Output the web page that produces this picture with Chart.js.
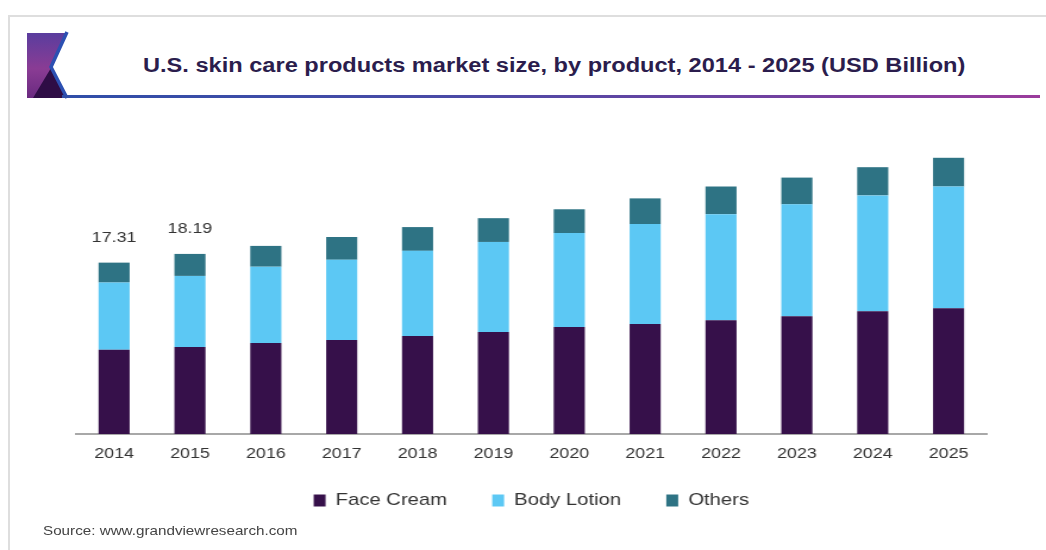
<!DOCTYPE html>
<html><head><meta charset="utf-8">
<script src="https://cdn.jsdelivr.net/npm/chart.js@4.4.1/dist/chart.umd.min.js"></script>
<style>
html,body{margin:0;padding:0;background:#fff;width:1046px;height:550px;overflow:hidden;font-family:"Liberation Sans",Arial,sans-serif;}
#card{position:absolute;left:8px;top:15px;width:1060px;height:560px;border-top:2px solid #dedede;border-left:2px solid #dedede;box-sizing:border-box;}
#title{position:absolute;left:143px;top:54px;font-weight:bold;font-size:20px;color:#2b1d4d;white-space:nowrap;transform:scaleX(1.18);transform-origin:0 0;}
#rule{position:absolute;left:62px;top:95px;width:978px;height:3px;background:linear-gradient(90deg,#2f4ea8 0%,#4a4aa6 40%,#7a3f9f 80%,#9b3c9c 100%);}
#source{position:absolute;left:43px;top:523px;font-size:13px;color:#444;transform:scaleX(1.17);transform-origin:0 0;white-space:nowrap;}
#wrap{position:absolute;left:0;top:0;width:879px;height:550px;transform:scaleX(1.19);transform-origin:0 0;}
svg{position:absolute;left:0;top:0;}
</style></head>
<body>
<div id="card"></div>
<svg width="120" height="110">
<defs><linearGradient id="g" x1="0" y1="0" x2="0" y2="1">
<stop offset="0" stop-color="#5a3d9e"/><stop offset="0.55" stop-color="#8a3c94"/><stop offset="1" stop-color="#6a2a80"/></linearGradient></defs>
<polygon points="27,33 67,33 52,67 67,98 27,98" fill="url(#g)"/>
<polygon points="33,98 51,68 66,98" fill="#2e0d45"/>
<polyline points="67,32 51,67 67,98" fill="none" stroke="#2c50b2" stroke-width="3.5"/>
</svg>
<div id="rule"></div>
<div id="title">U.S. skin care products market size, by product, 2014 - 2025 (USD Billion)</div>
<div id="wrap"><canvas id="c" width="879" height="550" style="width:879px;height:550px;"></canvas></div>
<div id="source">Source: www.grandviewresearch.com</div>
<script>
const years = ["2014","2015","2016","2017","2018","2019","2020","2021","2022","2023","2024","2025"];
const faceCream  = [8.50, 8.80, 9.20, 9.50, 9.90, 10.30, 10.80, 11.10, 11.50, 11.90, 12.40, 12.70];
const bodyLotion = [6.80, 7.17, 7.70, 8.10, 8.60, 9.10, 9.50, 10.10, 10.70, 11.30, 11.70, 12.30];
const others     = [2.01, 2.22, 2.10, 2.30, 2.40, 2.40, 2.40, 2.60, 2.80, 2.70, 2.85, 2.90];
const totalLabels = ["17.31","18.19","","","","","","","","","",""];

const labelPlugin = {
  id:'totals',
  afterLayout(chart){
    const lg = chart.legend;
    if (lg) { lg.top -= 20; lg.bottom -= 20; }
  },
  afterDatasetsDraw(chart){
    const ctx = chart.ctx;
    const meta = chart.getDatasetMeta(2);
    ctx.save();
    ctx.font = '15px "Liberation Sans", Arial, sans-serif';
    ctx.fillStyle = '#333';
    ctx.textAlign = 'center';
    ctx.textBaseline = 'middle';
    meta.data.forEach((bar,i)=>{
      if(totalLabels[i]) ctx.fillText(totalLabels[i], bar.x, bar.y - 25);
    });
    ctx.restore();
  }
};

new Chart(document.getElementById('c'), {
  type:'bar',
  data:{
    labels: years,
    datasets:[
      {label:'Face Cream', data: faceCream, backgroundColor:'#36104a'},
      {label:'Body Lotion', data: bodyLotion, backgroundColor:'#5cc8f4'},
      {label:'Others', data: others, backgroundColor:'#2e7384'}
    ]
  },
  options:{
    responsive:false,
    animation:false,
    devicePixelRatio:1,
    layout:{padding:{top:137,left:64,right:50,bottom:11}},
    datasets:{bar:{categoryPercentage:1, barPercentage:0.41}},
    scales:{
      x:{stacked:true, grid:{display:false, drawTicks:false},
         border:{display:true,color:'#a8a8a8',width:2},
         ticks:{padding:11,color:'#333',font:{size:15,family:'"Liberation Sans", Arial, sans-serif'}}},
      y:{stacked:true, display:false, min:0, max:30}
    },
    plugins:{
      legend:{position:'bottom',
        labels:{boxWidth:10,boxHeight:12,padding:38,color:'#333',
          font:{size:17,family:'"Liberation Sans", Arial, sans-serif'}}},
      tooltip:{enabled:false}
    }
  },
  plugins:[labelPlugin]
});
</script>
</body></html>
